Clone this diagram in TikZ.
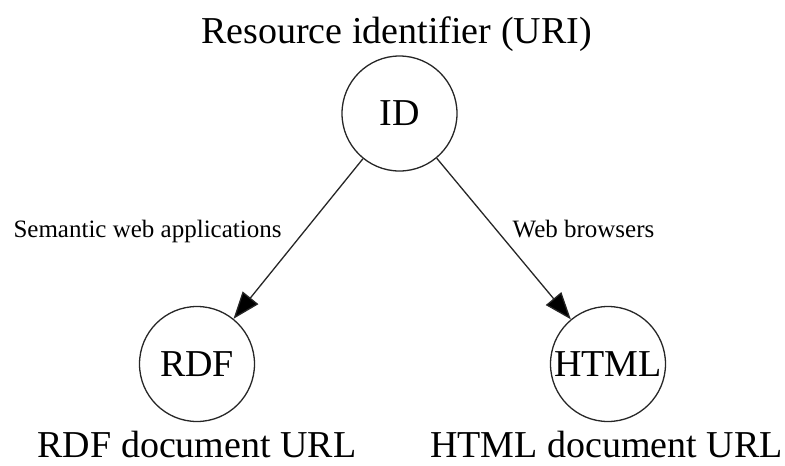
\documentclass[tikz,border=0pt]{standalone}
\usepackage{fontspec}
\setmainfont{Liberation Serif}
\usetikzlibrary{arrows.meta}
\begin{document}
\begin{tikzpicture}[x=1pt,y=-1pt,
  state/.style={circle,draw=black!85,line width=1.3pt,minimum size=115pt,inner sep=0pt,font=\fontsize{38}{40}\selectfont},
  bigtext/.style={anchor=base,inner sep=0pt,font=\fontsize{38}{40}\selectfont},
  edgetext/.style={anchor=base,inner sep=0pt,font=\fontsize{25}{27}\selectfont},
  conn/.style={line width=1.3pt,draw=black!85,-{Triangle[length=27pt,width=20pt,fill=black]}}]
\useasboundingbox (0,0) rectangle (785,466);
\node[state] (id) at (399.5,113.5) {ID};
\node[state] (rdf) at (197,364) {RDF};
\node[state] (html) at (608,364) {HTML};
\node[bigtext] (title) at (396.5,43) {Resource identifier (URI)};
\node[bigtext] (rdflab) at (197,457) {RDF document URL};
\node[bigtext] (htmllab) at (606.5,457) {HTML document URL};
\node[edgetext] (e1) at (147.5,237) {Semantic web applications};
\node[edgetext] (e2) at (583.5,237) {Web browsers};
\draw[conn] (id) -- (rdf);
\draw[conn] (id) -- (html);
\end{tikzpicture}
\end{document}
